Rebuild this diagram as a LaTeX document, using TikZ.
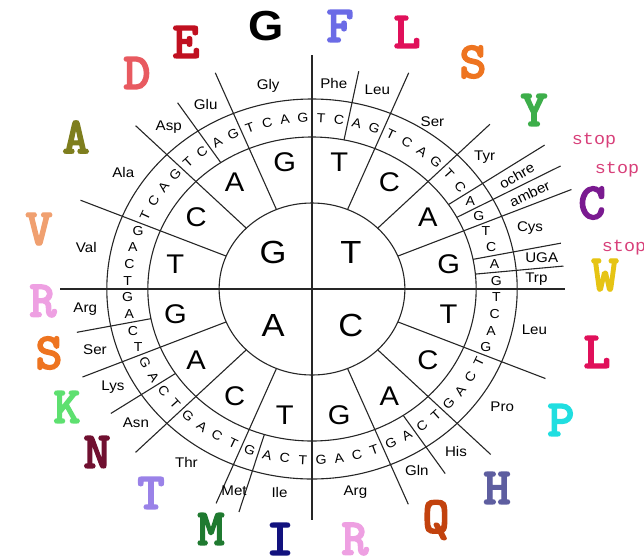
\documentclass[tikz,border=0pt]{standalone}
\usepackage{fontspec}
\setsansfont{Liberation Sans}[FakeStretch=1.08]
\newfontfamily\stopfont{Liberation Mono}[FakeStretch=1.08]
\newfontfamily\codefont{lmmonolt10-bold.otf}[FakeBold=2.5]
\usetikzlibrary{calc}
\definecolor{stoppink}{HTML}{D8407A}
\definecolor{cF}{HTML}{6B6BE6}
\definecolor{cL}{HTML}{E0105A}
\definecolor{cS}{HTML}{EE7420}
\definecolor{cY}{HTML}{3DAE4A}
\definecolor{cC}{HTML}{7A1A90}
\definecolor{cW}{HTML}{E6C414}
\definecolor{cP}{HTML}{20DEE0}
\definecolor{cH}{HTML}{5E5EA0}
\definecolor{cQ}{HTML}{C2420E}
\definecolor{cR}{HTML}{EEA0E2}
\definecolor{cI}{HTML}{12127E}
\definecolor{cM}{HTML}{1F7A30}
\definecolor{cT}{HTML}{9A82E8}
\definecolor{cN}{HTML}{701030}
\definecolor{cK}{HTML}{5EE070}
\definecolor{cV}{HTML}{F0A070}
\definecolor{cA}{HTML}{7E7E1E}
\definecolor{cD}{HTML}{E85A60}
\definecolor{cE}{HTML}{C01020}

\begin{document}
\begin{tikzpicture}[
    x=1pt, y=1pt,
    every node/.style={font=\sffamily, inner sep=0pt},
    wheel/.style={line width=1.1pt, black!85},
    firstbase/.style={font=\sffamily\fontsize{32}{32}\selectfont},
    secondbase/.style={font=\sffamily\fontsize{27}{27}\selectfont},
    thirdbase/.style={font=\sffamily\fontsize{13}{13}\selectfont},
    amino/.style={font=\sffamily\fontsize{14}{14}\selectfont},
    onecode/.style={font=\codefont\fontsize{52}{52}\selectfont},
    stoptag/.style={font=\stopfont\fontsize{17}{17}\selectfont, text=stoppink}
  ]
  \useasboundingbox (-312,-269) rectangle (332,289);

  \begin{scope}[xscale=1.08]
    \foreach \r in {86,152,190} {\draw[wheel] (0,0) circle[radius=\r];}
    \draw[wheel] (90:234) -- (-90:231);
    \draw[wheel] (180:233) -- (0:234);

    % second base boundaries run from the inner circle
    \foreach \a/\len in {67.5/234, 45/233, 22.5/260, -22.5/234, -45/234, -67.5/233,
                         -112.5/232, -135/231, -157.5/230, 157.5/232, 135/231, 112.5/234}
      {\draw[wheel] (\a:86) -- (\a:\len);}
    % amino acid changes inside a sector start at the middle circle
    \foreach \a/\len in {78.75/222, 33.75/259, 28.125/261, 11.25/235, 5.625/234,
                         -56.25/222, -106.875/233, -146.25/224, -168.75/222, 123.75/224}
      {\draw[wheel] (\a:152) -- (\a:\len);}

    \foreach \b/\a in {T/45, C/-45, A/-135, G/135}
      {\node[firstbase] (f\b) at (\a:51) {\b};}

    \foreach \fb [count=\i from 0] in {T,C,A,G} {
      \foreach \sb [count=\j from 0] in {T,C,A,G} {
        \pgfmathsetmacro\ang{mod(450-90*\i-22.5*\j-11.25,360)}
        \node[secondbase] (s\i\j) at (\ang:129) {\sb};
        \foreach \tb [count=\k from 0] in {T,C,A,G} {
          \pgfmathsetmacro\ang{mod(450-90*\i-22.5*\j-5.625*\k-2.8125,360)}
          \pgfmathsetmacro\rot{or(abs(sin(\ang))<0.39, and(\i==0, and(\j==2, \k>1))) ? 0 : (\ang<180 ? \ang-90 : \ang+90)}
          \node[thirdbase, rotate=\rot] (t\i\j\k) at (\ang:171) {\tb};
        }
      }
    }

    \foreach \aa/\a/\r/\rot [count=\n] in {Phe/84.4/207/0, Leu/73.1/208/0, Ser/56.3/201/0,
        Tyr/39.4/207/0, ochre/30.9/221/30, amber/25.3/223/25, Cys/16.9/211/0,
        UGA/8.4/215/0, Trp/2.8/208/0, Leu/-11.3/210/0, Pro/-33.8/212/0,
        His/-50.6/210/0, Gln/-61.9/206/0, Arg/-78.8/207/0, Ile/-98.4/206/0,
        Met/-109.7/214/0, Thr/-123.8/209/0, Asn/-140.6/211/0, Lys/-151.9/209/0,
        Ser/-163.1/210/0, Arg/-174.4/211/0, Val/168.8/213/0, Ala/146.3/210/0,
        Asp/129.4/209/0, Glu/118.1/209/0, Gly/101.3/207/0}
      {\node[amino, rotate=\rot] (aa\n) at (\a:\r) {\aa};}
  \end{scope}

  % one-letter codes round the wheel
  \node[font=\sffamily\bfseries\fontsize{42}{42}\selectfont] (codeG) at (-46,263) {G};
  \foreach \c/\col/\x/\y [count=\n] in {F/cF/28/263, L/cL/95/257, S/cS/161/227, Y/cY/222/179,
      C/cC/280/86, W/cW/293/14, L/cL/285/-63, P/cP/249/-131, H/cH/185/-199,
      Q/cQ/124/-231, R/cR/43/-250, I/cI/-32/-250, M/cM/-101/-240, T/cT/-161/-204,
      N/cN/-215/-163, K/cK/-245/-118, S/cS/-263/-64, R/cR/-269/-12, V/cV/-273/60,
      A/cA/-236/152, D/cD/-175/216, E/cE/-126/247}
    {\node[onecode, text=\col] (code\n) at (\x,\y) {\c};}

  \node[stoptag] (stop1) at (282,148) {stop};
  \node[stoptag] (stop2) at (305,119) {stop};
  \node[stoptag] (stop3) at (312,41) {stop};
\end{tikzpicture}
\end{document}
